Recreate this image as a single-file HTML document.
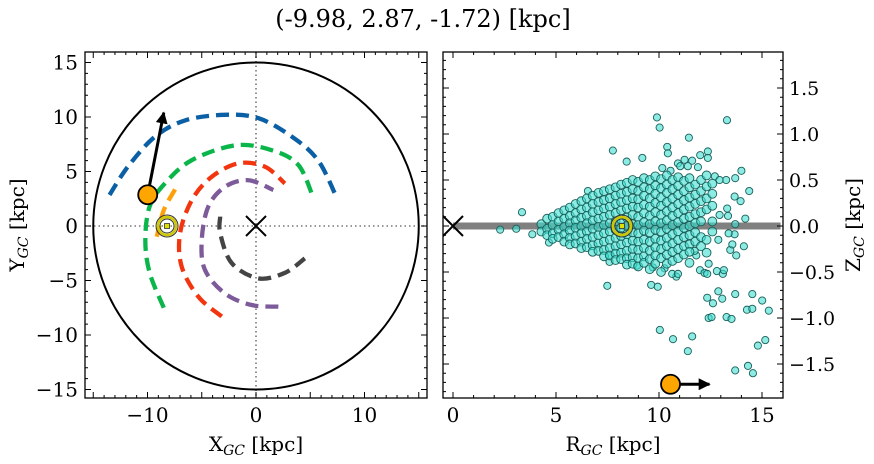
<!DOCTYPE html>
<html><head><meta charset="utf-8"><style>
html,body{margin:0;padding:0;background:#fff;}
svg{display:block;font-family:"DejaVu Serif","Liberation Serif",serif;}
</style></head><body>
<svg id="fig" width="874" height="464" viewBox="0 0 874 464" xmlns="http://www.w3.org/2000/svg">
<defs>
<marker id="ah" viewBox="0 0 10 10" refX="9" refY="5" markerWidth="4" markerHeight="4" orient="auto"><path d="M0,0 L10,5 L0,10 z" fill="#000"/></marker>
<clipPath id="clipL"><rect x="85" y="52" width="342" height="346"/></clipPath>
<clipPath id="clipR"><rect x="443" y="52" width="340" height="346"/></clipPath>
</defs>
<text x="423" y="27" font-size="24" text-anchor="middle">(-9.98, 2.87, -1.72) [kpc]</text>
<g id="left"></g>
<g id="right"></g>
<text x="256" y="451" font-size="20" text-anchor="middle">X<tspan font-size="14" dy="4" font-style="italic">GC</tspan><tspan dy="-4"> [kpc]</tspan></text>
<text transform="translate(24,225) rotate(-90)" font-size="20" text-anchor="middle">Y<tspan font-size="14" dy="4" font-style="italic">GC</tspan><tspan dy="-4"> [kpc]</tspan></text>
<text x="613" y="451" font-size="20" text-anchor="middle">R<tspan font-size="14" dy="4" font-style="italic">GC</tspan><tspan dy="-4"> [kpc]</tspan></text>
<text transform="translate(860,225) rotate(-90)" font-size="20" text-anchor="middle">Z<tspan font-size="14" dy="4" font-style="italic">GC</tspan><tspan dy="-4"> [kpc]</tspan></text>
</svg>
<script>
// ---- data ----
const armBlueX = [-13.5,-11.8,-9.3,-6.5,-2.9,0.2,3.3,5.7,7.4];
const armBlueY = [2.85,5.45,8.2,9.7,10.2,9.9,8.2,6.05,2.7];
const armGreenX = [-8.5,-9.8,-10.2,-9.8,-8.4,-5.9,-1.9,1.4,3.9,5.3];
const armGreenY = [-7.5,-4.3,-1.3,1.8,3.9,6.05,7.4,6.97,5.6,2.54];
const armRedX = [-3.16,-5.3,-6.85,-7.0,-5.9,-4.1,-1.63,0.82,2.66];
const armRedY = [-8.3,-6.5,-3.73,-0.67,2.4,4.5,5.75,5.44,3.9];
const armPurpleX = [2.06,-0.4,-2.85,-4.7,-5.0,-4.4,-2.85,-0.7,1.6];
const armPurpleY = [-7.4,-7.25,-6.2,-4.04,-1.3,1.77,3.6,4.2,3.3];
const armGrayX = [-3.3,-3.3,-2.24,0.2,2.66,4.5];
const armGrayY = [0.86,-0.67,-3.4,-4.8,-4.3,-2.97];
const armOrangeX = [-7.46,-8.5,-9.15];
const armOrangeY = [3.36,1.45,-0.98];
const starX = -9.98, starY = 2.87, starR = 10.56, starZ = -1.72;
const starArrowXY = [-8.5, 10.4];
const starArrowR = 12.45;
const sunX = -8.2, sunR = 8.2;
const xLabelsL = [-10,0,10];
const yTicksL = [-15,-10,-5,0,5,10,15];
const xTicksR = [0,5,10,15];
const zTicksR = [-1.5,-1.0,-0.5,0.0,0.5,1.0,1.5];
const coreR = [4.29,4.57,4.84,5.12,5.4,5.67,5.95,6.23,6.5,6.78,7.06,7.33,7.61,7.89,8.16,8.44,8.72,8.99,9.27,9.55,9.82,10.1,10.38,10.65,10.93,11.21,11.48,11.76,12.04,12.31,12.59];
const coreZ = [
[0.02,-0.06],[0.08,-0.03,-0.10],[0.10,0.01,-0.08,-0.14],[0.14,0.05,-0.04,-0.12],
[0.17,0.08,-0.01,-0.09,-0.17],[0.20,0.11,0.03,-0.05,-0.13,-0.20],[0.24,0.14,0.06,-0.02,-0.11,-0.19],
[0.27,0.18,0.09,0.0,-0.08,-0.17,-0.24],[0.30,0.20,0.11,0.03,-0.06,-0.14,-0.23],
[0.33,0.24,0.15,0.06,-0.03,-0.12,-0.21,-0.28],[0.36,0.26,0.17,0.08,-0.01,-0.10,-0.19,-0.27],
[0.38,0.28,0.19,0.10,0.01,-0.08,-0.17,-0.26,-0.33],[0.40,0.30,0.21,0.12,0.03,-0.06,-0.15,-0.24,-0.32],
[0.42,0.33,0.24,0.14,0.05,-0.04,-0.13,-0.22,-0.30,-0.37],[0.45,0.35,0.26,0.17,0.07,-0.02,-0.11,-0.20,-0.29,-0.36],
[0.47,0.37,0.28,0.19,0.09,0.0,-0.09,-0.18,-0.27,-0.35,-0.42],[0.50,0.40,0.30,0.21,0.12,0.02,-0.07,-0.16,-0.25,-0.34,-0.41],
[0.48,0.38,0.29,0.20,0.10,0.01,-0.08,-0.17,-0.26,-0.35,-0.44],[0.52,0.42,0.33,0.23,0.14,0.04,-0.05,-0.15,-0.24,-0.33,-0.40],
[0.50,0.40,0.30,0.21,0.11,0.02,-0.07,-0.17,-0.27,-0.36,-0.47],[0.54,0.44,0.35,0.25,0.15,0.05,-0.04,-0.14,-0.23,-0.32,-0.41],
[0.51,0.41,0.31,0.22,0.12,0.03,-0.06,-0.16,-0.25,-0.35,-0.50],[0.55,0.45,0.36,0.26,0.16,0.06,-0.03,-0.13,-0.22,-0.31,-0.41],
[0.50,0.40,0.30,0.20,0.11,0.01,-0.09,-0.19,-0.28,-0.38],[0.53,0.44,0.34,0.24,0.14,0.04,-0.06,-0.15,-0.25,-0.35],
[0.49,0.38,0.28,0.18,0.08,-0.02,-0.12,-0.22,-0.31],[0.52,0.42,0.31,0.21,0.10,0.0,-0.10,-0.20,-0.28,-0.40],
[0.45,0.34,0.24,0.13,0.03,-0.07,-0.17],[0.50,0.38,0.27,0.15,0.05,-0.12,-0.22],
[0.55,0.43,0.30,0.18,-0.15,-0.29],[0.46,0.35,0.22,0.05,-0.06]];
const outR = [9.9,10.03,13.3,11.45,7.76,8.43,9.19,10.4,10.43,12.37,12.0,11.24,11.61,12.37,10.92,10.16,10.56,11.4,11.89,11.03,14.0,13.7,14.38,13.96,14.19,13.7,6.55,3.35,2.29,3.07,3.85,4.66,7.49,9.62,9.94,10.04,10.68,11.61,11.4,13.7,14.32,14.56,14.8,15.16,15.33,15.01,14.53,14.27,14.53,13.7,13.28,13.52,12.41,12.55,13.07,12.62,12.34,12.88,12.81,13.1,13.15,11.99,12.21,12.34,14.12,13.75,13.46,13.56,13.67,13.38,12.88,12.94,13.31,13.35,13.67,13.26,12.71,12.94,12.41,11.81,11.73,10.84,10.64,10.92,10.27,9.7,8.94,7.6,7.6];
const outZ = [1.18,1.07,1.15,0.96,0.82,0.70,0.74,0.86,0.79,0.81,0.77,0.72,0.71,0.74,0.68,0.63,0.60,0.65,0.64,0.65,0.60,0.52,0.38,0.27,0.08,0.02,0.38,0.15,-0.04,-0.03,-0.09,-0.18,-0.65,-0.64,-0.66,-1.13,-1.23,-1.20,-1.36,-1.57,-1.52,-1.60,-1.30,-1.24,-0.92,-0.81,-0.74,-0.91,-0.90,-0.74,-0.99,-1.01,-1.0,-0.99,-0.79,-0.84,-0.78,-0.71,-0.49,-0.52,-0.48,-0.48,-0.51,-0.52,-0.22,-0.32,-0.26,-0.20,-0.09,-0.08,-0.15,0.12,0.19,0.11,0.32,0.50,0.54,0.50,-0.41,-0.32,-0.27,-0.55,-0.52,-0.52,-0.46,-0.45,-0.43,-0.39,-0.32];

// ---- scales ----
const L = {x0:85,x1:427,y0:52,y1:398};
const Rb = {x0:443,x1:783,y0:52,y1:398};
const sx = v => 256 + v*10.85;
const sy = v => 226 - v*10.9;
const rx = v => 453 + v*20.6;
const rz = v => 226 - v*92;
const NS = "http://www.w3.org/2000/svg";
function mk(parent, tag, attrs){const e=document.createElementNS(NS,tag);for(const k in attrs)e.setAttribute(k,attrs[k]);parent.appendChild(e);return e;}
const gL = document.getElementById('left'), gR = document.getElementById('right');
const fmt = v => (v<0?'\u2212':'')+Math.abs(v);

// ---- left panel ----
const plotL = mk(gL,'g',{'clip-path':'url(#clipL)'});
let e;
e = mk(plotL,'line',{x1:sx(0),x2:sx(0),y1:L.y0,y2:L.y1,stroke:'#777','stroke-width':1.6,'stroke-dasharray':'1.5 3'});
 
e = mk(plotL,'line',{x1:L.x0,x2:L.x1,y1:sy(0),y2:sy(0),stroke:'#777','stroke-width':1.6,'stroke-dasharray':'1.5 3'});
 
e = mk(plotL,'ellipse',{cx:sx(0),cy:sy(0),rx:15*10.85,ry:15*10.9,fill:'none',stroke:'#000','stroke-width':2});
 
function smooth(xs,ys){
  const p = xs.map((x,i)=>[sx(x),sy(ys[i])]);
  let d = `M${p[0][0]},${p[0][1]}`;
  for(let i=0;i<p.length-1;i++){
    const p0=p[i-1]||p[i],p1=p[i],p2=p[i+1],p3=p[i+2]||p2;
    const c1=[p1[0]+(p2[0]-p0[0])/6,p1[1]+(p2[1]-p0[1])/6];
    const c2=[p2[0]-(p3[0]-p1[0])/6,p2[1]-(p3[1]-p1[1])/6];
    d+=` C${c1[0]},${c1[1]} ${c2[0]},${c2[1]} ${p2[0]},${p2[1]}`;
  }
  return d;
}
const arms = [[armBlueX,armBlueY,'#0b5fa5','arm-blue'],[armGreenX,armGreenY,'#0ab54a','arm-green'],[armRedX,armRedY,'#f2350f','arm-red'],[armPurpleX,armPurpleY,'#7d5a9a','arm-purple'],[armGrayX,armGrayY,'#444','arm-gray'],[armOrangeX,armOrangeY,'#ffa00a','arm-orange']];
arms.forEach(a=>{
  const p = mk(plotL,'path',{d:smooth(a[0],a[1]),fill:'none',stroke:a[2],'stroke-width':4.3,'stroke-dasharray':'13 7'});
  
  
});
function cross(g,cx,cy,name){
  const c = mk(g,'path',{d:`M${cx-10},${cy-10}L${cx+10},${cy+10}M${cx-10},${cy+10}L${cx+10},${cy-10}`,stroke:'#000','stroke-width':2,fill:'none'});
   
}
function sun(g,cx,cy,name){
  const s = mk(g,'g',{});
   
  mk(s,'circle',{cx,cy,r:11,fill:'none',stroke:'#333','stroke-width':1});
  mk(s,'circle',{cx,cy,r:9,fill:'none',stroke:'#cfc800','stroke-width':2.5});
  mk(s,'circle',{cx,cy,r:7,fill:'none',stroke:'#333','stroke-width':1});
  mk(s,'rect',{x:cx-2.5,y:cy-2.5,width:5,height:5,fill:'#dede00',stroke:'#333','stroke-width':0.8});
}
cross(plotL,sx(0),sy(0),'galactic-center-marker');
sun(plotL,sx(sunX),sy(0),'sun-marker');
e = mk(plotL,'line',{x1:sx(starX),y1:sy(starY),x2:sx(starArrowXY[0]),y2:sy(starArrowXY[1]),stroke:'#000','stroke-width':3,'marker-end':'url(#ah)'});
 
e = mk(plotL,'circle',{cx:sx(starX),cy:sy(starY),r:9.5,fill:'#ffa500',stroke:'#000','stroke-width':1.8});
 

function frame(g,b,name){
  const f = mk(g,'rect',{x:b.x0,y:b.y0,width:b.x1-b.x0,height:b.y1-b.y0,fill:'none',stroke:'#000','stroke-width':1.3});
   
}
function ticksX(g,b,sc,lo,hi,minStep,majStep){
  let d='';
  for(let v=lo;v<=hi+1e-9;v+=minStep){
    const x=sc(v); if(x<b.x0+0.5||x>b.x1-0.5) continue;
    const isMaj = Math.abs(v/majStep-Math.round(v/majStep))<1e-6;
    const len = isMaj?6:3;
    d+=`M${x},${b.y1}v${-len}M${x},${b.y0}v${len}`;
  }
  mk(g,'path',{d,stroke:'#000','stroke-width':1,fill:'none'});
}
function ticksY(g,b,sc,lo,hi,minStep,majStep){
  let d='';
  for(let i=0;lo+i*minStep<=hi+1e-9;i++){
    const v=lo+i*minStep; const y=sc(v); if(y<b.y0+0.5||y>b.y1-0.5) continue;
    const isMaj = Math.abs(v/majStep-Math.round(v/majStep))<1e-6;
    const len = isMaj?6:3;
    d+=`M${b.x0},${y}h${len}M${b.x1},${y}h${-len}`;
  }
  mk(g,'path',{d,stroke:'#000','stroke-width':1,fill:'none'});
}
frame(gL,L,'xy-axes-frame');
ticksX(gL,L,sx,-16,16,1,5);
ticksY(gL,L,sy,-16,16,1,5);
xLabelsL.forEach(v=>{
  const t = mk(gL,'text',{x:sx(v),y:422,'font-size':20,'text-anchor':'middle'}); t.textContent=fmt(v);
   
});
yTicksL.forEach(v=>{
  const t = mk(gL,'text',{x:78,y:sy(v)+7,'font-size':20,'text-anchor':'end'}); t.textContent=fmt(v);
   
});

// ---- right panel ----
const plotR = mk(gR,'g',{'clip-path':'url(#clipR)'});
e = mk(plotR,'line',{x1:rx(0),x2:rx(15.9),y1:rz(0),y2:rz(0),stroke:'#808080','stroke-width':7});
 
const pts = mk(plotR,'g',{});
 
function dot(R,Z,r){
  const c = mk(pts,'circle',{cx:rx(R),cy:rz(Z),r:r,fill:'rgba(64,224,208,0.6)',stroke:'#1a5f5a','stroke-width':0.9});
  
  
}
outR.forEach((R,i)=>dot(R,outZ[i],3.6));
coreR.forEach((R,i)=>coreZ[i].forEach(z=>dot(R,z,4.4)));
cross(plotR,rx(0),rz(0),'galactic-center-rz-marker');
sun(plotR,rx(sunR),rz(0),'sun-rz-marker');
e = mk(plotR,'line',{x1:rx(starR),y1:rz(starZ),x2:rx(starArrowR),y2:rz(starZ),stroke:'#000','stroke-width':3,'marker-end':'url(#ah)'});
 
e = mk(plotR,'circle',{cx:rx(starR),cy:rz(starZ),r:9.5,fill:'#ffa500',stroke:'#000','stroke-width':1.8});
 
frame(gR,Rb,'rz-axes-frame');
ticksX(gR,Rb,rx,-1,16,1,5);
ticksY(gR,Rb,rz,-2,2,0.1,0.5);
xTicksR.forEach(v=>{
  const t = mk(gR,'text',{x:rx(v),y:422,'font-size':20,'text-anchor':'middle'}); t.textContent=fmt(v);
   
});
zTicksR.forEach(v=>{
  const t = mk(gR,'text',{x:789,y:rz(v)+7,'font-size':19,'text-anchor':'start'});
  t.textContent = (v<0?'\u2212':'')+Math.abs(v).toFixed(1);
   
});
</script>
</body></html>
